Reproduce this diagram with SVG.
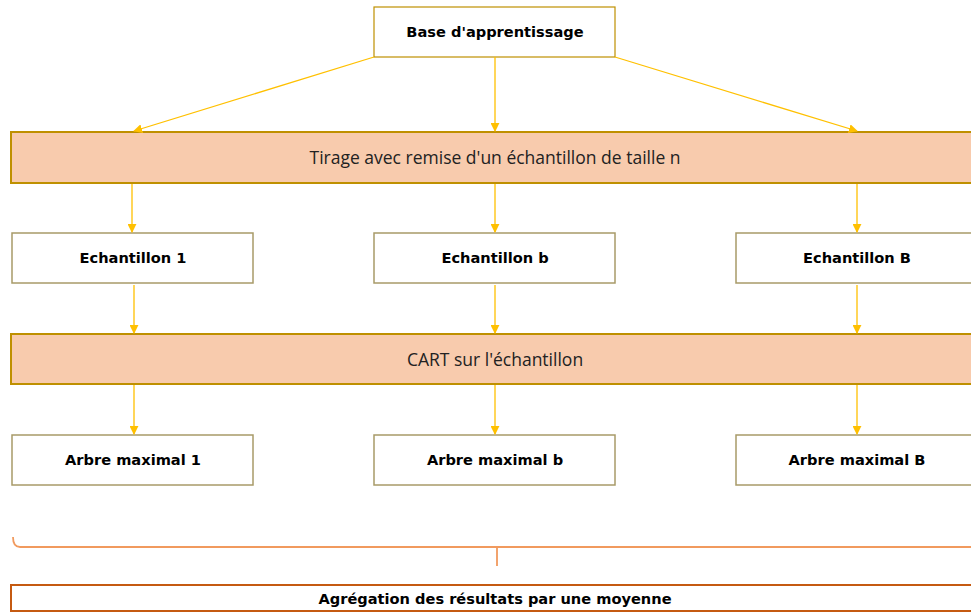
<svg xmlns="http://www.w3.org/2000/svg" width="971" height="612" viewBox="0 0 971 612">
<defs>
<marker id="ah" viewBox="0 0 10 10" refX="9" refY="5" markerWidth="9" markerHeight="9" markerUnits="userSpaceOnUse" orient="auto">
<path d="M0,0 L10,5 L0,10 z" fill="#FFC000"/>
</marker>
<style>
.box{fill:#ffffff;stroke:#A89A68;stroke-width:1.5}
.top{fill:#ffffff;stroke:#BF9000;stroke-width:1.2}
.bar{fill:#F8CBAD;stroke:#BF9000;stroke-width:2}
.fin{fill:#ffffff;stroke:#C55A11;stroke-width:2}
.b{font-family:"DejaVu Sans",Verdana,sans-serif;font-weight:bold;font-size:14.6px;fill:#000;text-anchor:middle}
.r{font-family:"Open Sans","Liberation Sans",sans-serif;font-size:17.5px;fill:#222;text-anchor:middle}
.c line{stroke:#FFC000;stroke-width:1.3;marker-end:url(#ah)}
</style>
</defs>
<rect width="971" height="612" fill="#ffffff"/>
<g id="base"><rect class="top" x="374" y="7" width="241" height="50"/><text class="b" x="495" y="37">Base d'apprentissage</text></g>
<g id="tirage"><rect class="bar" x="11" y="132" width="968" height="51"/><text class="r" x="495" y="164">Tirage avec remise d'un échantillon de taille n</text></g>
<g id="ech1"><rect class="box" x="12" y="233" width="241" height="50"/><text class="b" x="133" y="263">Echantillon 1</text></g>
<g id="echb"><rect class="box" x="374" y="233" width="241" height="50"/><text class="b" x="495" y="263">Echantillon b</text></g>
<g id="echB"><rect class="box" x="736" y="233" width="241" height="50"/><text class="b" x="857" y="263">Echantillon B</text></g>
<g id="cart"><rect class="bar" x="11" y="334" width="968" height="50"/><text class="r" x="495" y="366">CART sur l'échantillon</text></g>
<g id="arb1"><rect class="box" x="12" y="435" width="241" height="50"/><text class="b" x="133" y="465">Arbre maximal 1</text></g>
<g id="arbb"><rect class="box" x="374" y="435" width="241" height="50"/><text class="b" x="495" y="465">Arbre maximal b</text></g>
<g id="arbB"><rect class="box" x="736" y="435" width="241" height="50"/><text class="b" x="857" y="465">Arbre maximal B</text></g>
<g id="brace"><path d="M13,537 Q13,547 20,547 L979,547 M497,547 L497,566" fill="none" stroke="#F19A5E" stroke-width="1.8"/></g>
<g id="agg"><rect class="fin" x="11" y="585" width="968" height="26"/><text class="b" x="495" y="604">Agrégation des résultats par une moyenne</text></g>
<g id="connectors" class="c">
<line x1="374" y1="57" x2="134" y2="131"/>
<line x1="495" y1="57" x2="495" y2="131"/>
<line x1="615" y1="57" x2="857" y2="131"/>
<line x1="132" y1="184" x2="132" y2="232"/>
<line x1="495" y1="184" x2="495" y2="232"/>
<line x1="857" y1="184" x2="857" y2="232"/>
<line x1="134" y1="285" x2="134" y2="333"/>
<line x1="495" y1="285" x2="495" y2="333"/>
<line x1="857" y1="285" x2="857" y2="333"/>
<line x1="134" y1="385" x2="134" y2="434"/>
<line x1="495" y1="385" x2="495" y2="434"/>
<line x1="857" y1="385" x2="857" y2="434"/>
</g>
</svg>
